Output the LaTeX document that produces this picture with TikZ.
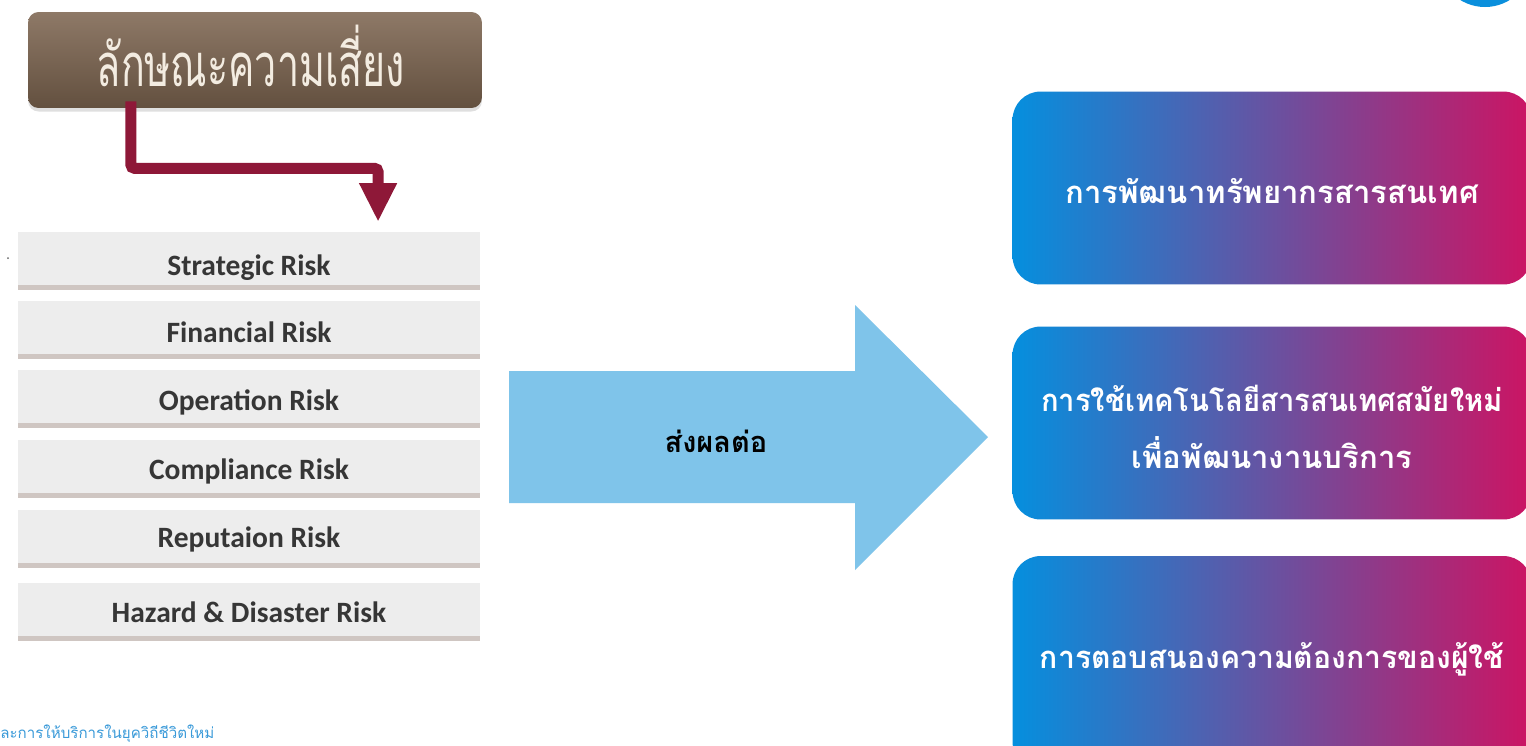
\documentclass[tikz,border=0pt]{standalone}
\usepackage{fontspec}
\setmainfont{Carlito}
\newfontfamily\thai[Script=Thai]{Loma}
\usetikzlibrary{calc,arrows.meta,shadows}
\definecolor{hdrtop}{HTML}{8E7967}
\definecolor{hdrbot}{HTML}{63503F}
\definecolor{hdrtext}{HTML}{F3ECE1}
\definecolor{riskred}{HTML}{8E1838}
\definecolor{barbg}{HTML}{EDEDED}
\definecolor{barline}{HTML}{CFC6C2}
\definecolor{bartext}{HTML}{363636}
\definecolor{bigarrow}{HTML}{7FC4EA}
\definecolor{gleft}{HTML}{058FDE}
\definecolor{gright}{HTML}{CC1463}
\definecolor{dotblue}{HTML}{0A8FDC}
\definecolor{foot}{HTML}{3A9AD9}
\tikzset{
  hdrbox/.style={rounded corners=6pt, top color=hdrtop, bottom color=hdrbot,
    minimum width=9.08cm, minimum height=1.92cm,
    drop shadow={opacity=0.25, shadow xshift=0pt, shadow yshift=-2pt}},
  hdrtxt/.style={text=hdrtext, inner sep=0pt, font=\thai\fontsize{34}{40}\selectfont},
  riskbar/.style={fill=barbg, minimum width=9.24cm, minimum height=1.16cm, inner sep=0pt},
  risktxt/.style={anchor=base, inner sep=0pt, text=bartext,
    font=\fontsize{16.8}{20}\selectfont\bfseries},
  riskarrow/.style={draw=riskred, line width=6.2pt, rounded corners=2pt,
    -{Triangle[width=20pt,length=22pt]}, shorten >=5.6pt},
  gbox/.style={rounded corners=16pt, left color=gleft, right color=gright,
    minimum width=10.38cm},
  gtxt/.style={text=white, align=center, inner sep=0pt,
    font=\thai\fontsize{17.7}{32}\selectfont\bfseries},
}
\begin{document}
\begin{tikzpicture}[x=0.02cm,y=-0.02cm]
\clip (0,0) rectangle (1526,745);
\useasboundingbox (0,0) rectangle (1526,745);
\fill[white] (0,0) rectangle (1526,745);
% top-right circle
\fill[dotblue] (1485,-40) circle (47);
% risk bars
\node[riskbar] (r1) at (249,261) {};
\node[riskbar] (r2) at (249,330) {};
\node[riskbar] (r3) at (249,399) {};
\node[riskbar] (r4) at (249,469) {};
\node[riskbar] (r5) at (249,539) {};
\node[riskbar] (r6) at (249,612) {};
\foreach \r in {r1,r2,r3,r4,r5,r6}{
  \fill[barline] (\r.south west) rectangle ([yshift=3pt]\r.south east);
}
\node[risktxt] (t1) at (249,275) {Strategic Risk};
\node[risktxt] (t2) at (249,342) {Financial Risk};
\node[risktxt] (t3) at (249,410) {Operation Risk};
\node[risktxt] (t4) at (249,479) {Compliance Risk};
\node[risktxt] (t5) at (249,547) {Reputaion Risk};
\node[risktxt] (t6) at (249,622) {Hazard \& Disaster Risk};
% header and elbow arrow
\coordinate (a2) at ($(r1.north west)!0.779!(r1.north east)$);
\node[hdrbox] (hdr) at (255,60) {};
\coordinate (a1) at ($(hdr.south west)!0.227!(hdr.south east)$);
\draw[riskarrow] ([yshift=4pt]a1) -- ++(0,67) -| (a2);
\node[hdrtxt] (hdrt) at (251,56) {\scalebox{0.66}[1]{ลักษณะความเสี่ยง}};
\fill[black!60] (8,258) circle (1);
% big arrow
\fill[bigarrow] (509,371) -- (855,371) -- (855,305) -- (988,437) -- (855,570) -- (855,503) -- (509,503) -- cycle;
\node[font=\thai\fontsize{16.5}{18}\selectfont\bfseries] (eff) at (716,441) {ส่งผลต่อ};
% gradient boxes
\node[gbox, minimum height=3.86cm] (g1) at (1272,188) {};
\node[gbox, minimum height=3.86cm] (g2) at (1272,423) {};
\node[gbox, minimum height=4.28cm] (g3) at (1272,663) {};
\node[gtxt] (g1t) at (1272,191) {การพัฒนาทรัพยากรสารสนเทศ};
\node[gtxt] (g2t) at (1272,427) {\scalebox{0.94}[1]{การใช้เทคโนโลยีสารสนเทศสมัยใหม่}\\เพื่อพัฒนางานบริการ};
\node[gtxt] (g3t) at (1272,659) {\scalebox{0.97}[1]{การตอบสนองความต้องการของผู้ใช้}};
% footer
\node[anchor=west, inner sep=0pt, text=foot, font=\thai\fontsize{8.6}{10}\selectfont] (ft) at (0,734) {ละการให้บริการในยุควิถีชีวิตใหม่};
\end{tikzpicture}
\end{document}
